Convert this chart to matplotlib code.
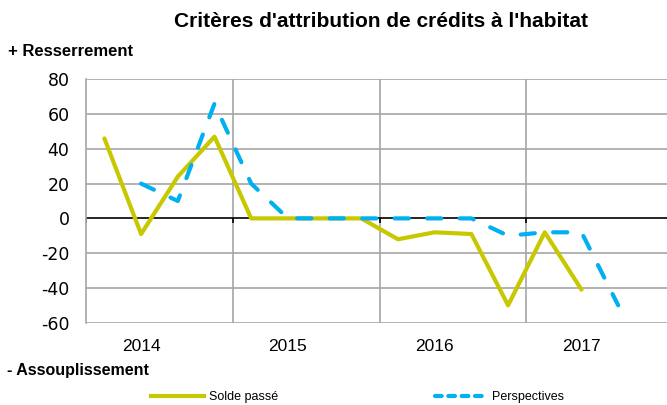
import numpy as np
import matplotlib
matplotlib.use("Agg")
import matplotlib.pyplot as plt

plt.rcParams["axes.unicode_minus"] = False

# quarterly balances, 2014 Q1 .. 2017 Q3
quarters = np.arange(16)
solde_passe = [46, -9, 24, 47, 0, 0, 0, 0, -12, -8, -9, -50, -8, -41]
perspectives = [np.nan, 20, 10, 66, 20, 0, 0, 0, 0, 0, 0, -10, -8, -8, -50]
years = ["2014", "2015", "2016", "2017"]
year_pos = [1, 5, 9, 13]
separators = [3.5, 7.5, 11.5]

yellow = "#C8C800"
blue = "#00B0F0"
grid = "#A6A6A6"
narrow = "Liberation Sans"

fig = plt.figure(figsize=(6.67, 4.05), dpi=100)
ax = fig.add_axes([0.129, 0.2032, 0.871, 0.6010])

ax.plot(quarters[:len(solde_passe)], solde_passe, color=yellow, lw=3,
        solid_joinstyle="round", solid_capstyle="round", zorder=4)
ax.plot(quarters[:len(perspectives)], perspectives, color=blue, lw=3,
        dashes=(3.4, 4.4), dash_capstyle="round", dash_joinstyle="round",
        zorder=5)

ax.set_xlim(-0.5, 15.33)
ax.set_ylim(-60, 80)
ax.set_yticks(np.arange(-60, 81, 20))
for y in np.arange(-60, 81, 20):
    if y != 0:
        ax.axhline(y, color=grid, lw=1.2, zorder=1)
for x in separators:
    ax.axvline(x, color=grid, lw=1.2, zorder=1)
ax.axhline(0, color="black", lw=1.2, zorder=2)
ax.vlines([-0.5] + separators, -2.8, 0, color="black", lw=1.2, zorder=2)

for s in ["top", "right", "bottom"]:
    ax.spines[s].set_visible(False)
ax.spines["left"].set_color(grid)
ax.spines["left"].set_linewidth(1.2)

ax.tick_params(axis="y", length=0, pad=12, labelsize=12.5)
ax.set_xticks(year_pos)
ax.set_xticklabels(years, family=narrow, fontsize=12.5)
ax.tick_params(axis="x", length=0, pad=12)

fig.text(0.571, 0.947, "Critères d'attribution de crédits à l'habitat",
         ha="center", va="center", fontsize=15, fontweight="bold",
         family=narrow)
fig.text(0.012, 0.872, "+ Resserrement", ha="left", va="center",
         fontsize=12, fontweight="bold", family=narrow)
fig.text(0.010, 0.085, "- Assouplissement", ha="left", va="center",
         fontsize=11.5, fontweight="bold", family=narrow)

# legend
h1, = ax.plot([], [], color=yellow, lw=3)
h2, = ax.plot([], [], color=blue, lw=3, dashes=(1.6, 1.6), dash_capstyle="round")
fig.legend([h1], ["Solde passé"], loc="center left",
           bbox_to_anchor=(0.21, 0.02), frameon=False,
           handlelength=4.2, handletextpad=0.4,
           prop={"family": narrow, "size": 9})
fig.legend([h2], ["Perspectives"], loc="center left",
           bbox_to_anchor=(0.635, 0.02), frameon=False,
           handlelength=4.2, handletextpad=0.4,
           prop={"family": narrow, "size": 9})

fig.savefig("out.png", dpi=100)
